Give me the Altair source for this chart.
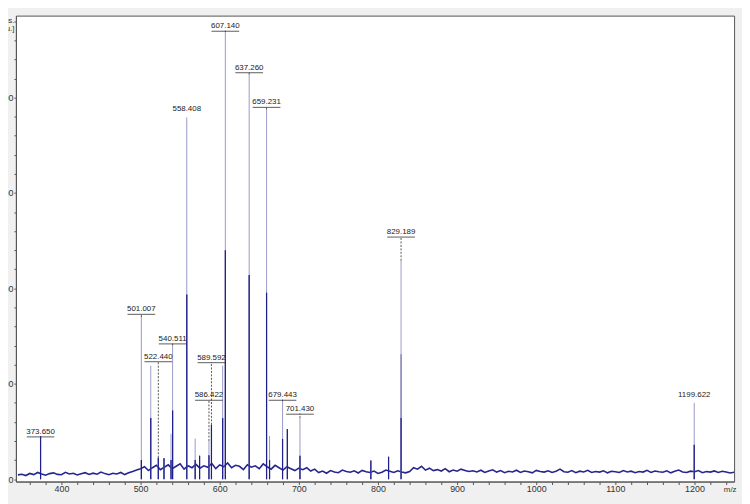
import altair as alt
import pandas as pd

# ---------------- data ----------------
# baseline noise, sampled every 5 m/z starting at 345
noise_start = 345
noise_step = 5
noise_low = [45, 52, 38, 60, 48, 70, 55, 42, 58, 66, 50, 47, 72, 54, 61, 44, 57, 68, 49, 63,
             52, 75, 58, 46, 62, 55, 70, 48, 66, 80]
noise_mid = [95, 110, 130, 90, 120, 145, 100, 125, 150, 110, 135, 160, 105, 140, 120, 155, 115, 140,
             125, 165, 110, 150, 130, 170, 120, 145, 135, 100, 150, 125, 140, 110, 160, 130, 105, 145,
             120, 95, 130, 110, 90, 115, 100, 120, 85, 105]
noise_high = [70, 85, 62, 90, 75, 68, 95, 80, 72, 88,
              65, 92, 78, 70, 85, 60, 72, 95, 84, 70,
              88, 74, 66, 80, 120, 105, 135, 95, 115, 90,
              100, 85, 110, 78, 96, 84, 105, 92, 80, 88,
              76, 94, 70, 86, 98, 74, 90, 68, 82, 76,
              94, 70, 85, 78, 66, 92, 80, 74, 88, 70,
              84, 105, 78, 72, 90, 68, 84, 76, 92, 70,
              80, 74, 88, 66, 82, 78, 70, 90, 76, 84,
              68, 80, 74, 92, 70, 86, 78, 72, 88, 66,
              82, 95, 76, 70, 84, 78, 90, 68, 80, 74,
              86, 70, 82, 76, 64, 72]

peaks_mz = [373.65, 501.007, 512.9, 522.44, 529.6, 538.5, 540.511, 558.408, 569.0, 574.6,
            586.422, 589.592, 603.75, 607.14, 637.26, 659.231, 663.0, 679.443, 685.5, 701.43,
            791.0, 813.4, 829.189, 1199.622]
peaks_int = [450, 1700, 1190, 225, 220, 475, 1400, 3793, 425, 245,
             400, 570, 1190, 4685, 4240, 3875, 453, 815, 525, 640,
             195, 235, 2290, 800]
peaks_mid = [450, 200, 640, 225, 220, 200, 720, 1935, 200, 245,
             250, 570, 640, 2400, 2140, 1955, 200, 420, 525, 245,
             195, 235, 1310, 360]
peaks_dark = [450, 200, 640, 225, 220, 200, 720, 1935, 200, 245,
              250, 570, 640, 2400, 2140, 1955, 200, 420, 525, 245,
              195, 235, 640, 360]

label_mz = [373.65, 501.007, 522.44, 540.511, 558.408, 586.422, 589.592, 607.14, 637.26,
            659.231, 679.443, 701.43, 829.189, 1199.622]
label_text = ["373.650", "501.007", "522.440", "540.511", "558.408", "586.422", "589.592",
              "607.140", "637.260", "659.231", "679.443", "701.430", "829.189", "1199.622"]
label_y = [495, 1780, 1283, 1470, 3876, 879, 1273, 4748, 4313, 3950, 879, 733, 2590, 879]
label_peak = [450, 1700, 225, 1400, 3793, 400, 570, 4685, 4240, 3875, 815, 640, 2290, 800]
label_underline = [1, 1, 1, 1, 0, 1, 1, 1, 1, 1, 1, 1, 1, 0]

x_ticks = list(range(360, 1241, 20))
y_ticks = list(range(0, 4801, 200))

# ---------------- tables ----------------
noise_vals = noise_low + noise_mid + noise_high
noise_df = pd.DataFrame({
    "mz": [noise_start + noise_step * i for i in range(len(noise_vals))],
    "intensity": noise_vals,
})
peaks_df = pd.DataFrame({"mz": peaks_mz, "top": peaks_int, "mid": peaks_mid,
                         "dark": peaks_dark, "zero": 0})
labels_df = pd.DataFrame({"mz": label_mz, "text": label_text, "ly": label_y,
                          "peak": label_peak, "ul": label_underline})
labels_df["conn_top"] = labels_df["ly"] - 45
conn_df = labels_df[(labels_df["conn_top"] > labels_df["peak"]) & (labels_df["ul"] == 1)]
ul_df = labels_df[labels_df["ul"] == 1]

xs = alt.Scale(domain=[342.5, 1250], nice=False, zero=False)
ys = alt.Scale(domain=[-25, 4860], nice=False, zero=False)

x_axis = alt.Axis(values=x_ticks, labelExpr="datum.value % 100 == 0 ? datum.label : ''",
                  format="d", tickSize=3, labelPadding=0, labelFontSize=9, labelColor="#333",
                  labelFont="Liberation Sans", tickColor="#555", domainColor="#555", grid=False,
                  labelOverlap=False, labelBound=False,
                  title="m/z", titleX=728, titleY=4, titleAlign="right", titleBaseline="top",
                  titleFontSize=8, titleFontWeight="normal", titleFont="Liberation Sans",
                  titleColor="#333", labelFlush=False)
y_axis = alt.Axis(values=y_ticks, labelExpr="datum.value % 1000 == 0 ? datum.label : ''",
                  format="d", tickSize=2, labelPadding=1, labelFontSize=9, labelColor="#333",
                  labelFont="Liberation Sans", tickColor="#555", domainColor="#555", grid=False,
                  labelOverlap=False, labelBound=False,
                  title=["Intens.", "[a.u.]"], titleAngle=0, titleX=-2, titleY=1,
                  titleAlign="right", titleBaseline="top", titleFontSize=8,
                  titleFontWeight="normal", titleFont="Liberation Sans", titleColor="#333",
                  titleLineHeight=8, labelFlush=False)

X = alt.X("mz:Q", scale=xs, axis=x_axis)

noise = alt.Chart(noise_df).mark_line(color="#26268f", strokeWidth=1.6, clip=True).encode(
    x=X, y=alt.Y("intensity:Q", scale=ys, axis=y_axis),
)

light = alt.Chart(peaks_df).mark_rule(color="#9a9ac8", strokeWidth=1, clip=True).encode(
    x=X, y=alt.Y("zero:Q", scale=ys, axis=y_axis), y2="top:Q")
mid = alt.Chart(peaks_df).mark_rule(color="#6a6aa8", strokeWidth=1, clip=True).encode(
    x=X, y=alt.Y("zero:Q", scale=ys, axis=y_axis), y2="mid:Q")
dark = alt.Chart(peaks_df).mark_rule(color="#1e1e8c", strokeWidth=1.2, clip=True).encode(
    x=X, y=alt.Y("zero:Q", scale=ys, axis=y_axis), y2="dark:Q")

conn = alt.Chart(conn_df).mark_rule(color="#555", strokeWidth=1, strokeDash=[2, 1.5]).encode(
    x=X, y=alt.Y("peak:Q", scale=ys, axis=y_axis), y2="conn_top:Q")

text = alt.Chart(labels_df).mark_text(fontSize=8, font="Liberation Sans", color="#222",
                                      baseline="middle", align="center").encode(
    x=X, y=alt.Y("ly:Q", scale=ys, axis=y_axis), text="text:N")

underline = alt.Chart(ul_df).mark_rule(color="#333", strokeWidth=0.8, xOffset=-14, x2Offset=14,
                                       yOffset=5, y2Offset=5).encode(
    x=X, x2="mz:Q", y=alt.Y("ly:Q", scale=ys, axis=y_axis), y2="ly:Q")

chart = alt.layer(noise, light, mid, dark, conn, underline, text).properties(
    width=726, height=471,
    padding={"left": 8, "top": 5, "right": 8, "bottom": 20},
    autosize=alt.AutoSizeParams(type="none"),
    background="#f0f0f0",
).configure_view(stroke="#555", strokeWidth=1, fill="white").configure_axis(
    labelOverlap=False, labelBound=False)

chart.save("out.html", embed_options={"renderer": "svg", "actions": False})
